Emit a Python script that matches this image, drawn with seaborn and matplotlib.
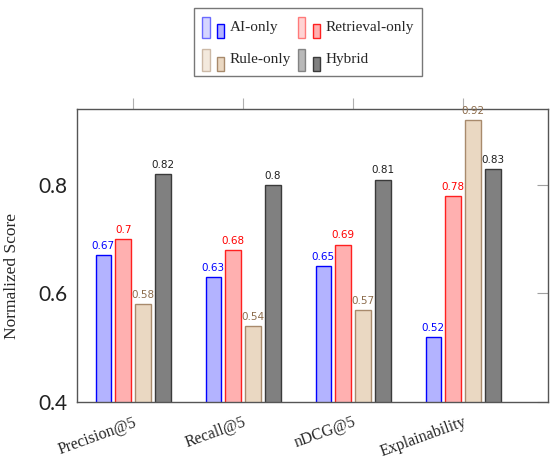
import numpy as np
import pandas as pd
import matplotlib
matplotlib.use("Agg")
import matplotlib.pyplot as plt
from matplotlib.patches import Patch, Rectangle
from matplotlib.legend_handler import HandlerBase
import seaborn as sns

metrics = ["Precision@5", "Recall@5", "nDCG@5", "Explainability"]
methods = ["AI-only", "Retrieval-only", "Rule-only", "Hybrid"]
ai_only = [0.67, 0.63, 0.65, 0.52]
retrieval_only = [0.70, 0.68, 0.69, 0.78]
rule_only = [0.58, 0.54, 0.57, 0.92]
hybrid = [0.82, 0.80, 0.81, 0.83]

face_colors = ["#b3b3ff", "#ffb0b0", "#ead8c2", "#808080"]
edge_colors = ["#0000ff", "#ff2020", "#a88a6c", "#3a3a3a"]
label_colors = ["#0000ff", "#ff0000", "#8c6c4c", "#202020"]

series = [ai_only, retrieval_only, rule_only, hybrid]
df = pd.DataFrame({
    "metric": metrics * len(methods),
    "method": [m for m in methods for _ in metrics],
    "score": [v for s in series for v in s],
})

sns.set_style("white")
plt.rcParams["font.family"] = ["Liberation Serif", "DejaVu Serif"]

fig = plt.figure(figsize=(5.5, 4.62), dpi=100)
ax = fig.add_axes([0.14, 0.13, 0.856, 0.634])

sns.barplot(data=df, x="metric", y="score", hue="method", hue_order=methods,
            palette=face_colors, saturation=1, width=0.72, gap=0.22,
            legend=False, ax=ax)

for cont, ec, lc, vals in zip(ax.containers, edge_colors, label_colors, series):
    for bar in cont:
        bar.set_edgecolor(ec)
        bar.set_linewidth(1.0)
    ax.bar_label(cont, labels=[f"{v:g}" for v in vals], color=lc, fontsize=7.5,
                 padding=3, family="DejaVu Sans")

ax.set_ylim(0.4, 0.94)
ax.set_xlim(-0.51, 3.77)
ax.set_yticks([0.4, 0.6, 0.8])
ax.set_yticklabels(["0.4", "0.6", "0.8"], family="Lato", fontsize=15)
ax.set_xlabel("")
ax.set_ylabel("Normalized Score", fontsize=12.5)
ax.yaxis.set_label_coords(-0.122, 0.43)

ax.tick_params(axis="y", direction="in", right=True, length=8, color="#a0a0a0",
               pad=7, labelcolor="#222222")
ax.tick_params(axis="x", direction="out", top=True, length=8, color="#b0b0b0",
               pad=1)
plt.setp(ax.get_xticklabels(), rotation=20, ha="right", rotation_mode="anchor",
         fontsize=11.5)

for sp in ax.spines.values():
    sp.set_color("#555555")
    sp.set_linewidth(1.0)


class TwoBarHandler(HandlerBase):
    def create_artists(self, legend, orig_handle, xdescent, ydescent, width,
                       height, fontsize, trans):
        fc = orig_handle.get_facecolor()
        ec = orig_handle.get_edgecolor()
        w = width * 0.33
        r1 = Rectangle((-xdescent, -ydescent - 2), w, height + 2, facecolor=fc,
                       edgecolor=ec, alpha=0.55, lw=1, transform=trans)
        r2 = Rectangle((-xdescent + width - w, -ydescent - 2), w, height * 0.6 + 2,
                       facecolor=fc, edgecolor=ec, lw=1, transform=trans)
        return [r1, r2]


# legend fills column by column, so reorder to get rows: AI/Retrieval, Rule/Hybrid
order = [0, 2, 1, 3]
handles = [Patch(facecolor=face_colors[i], edgecolor=edge_colors[i]) for i in order]
labels = [methods[i] for i in order]
leg = fig.legend(handles, labels, handler_map={Patch: TwoBarHandler()},
                 ncol=2, loc="upper center", bbox_to_anchor=(0.56, 0.982),
                 fontsize=11, frameon=True, fancybox=False, edgecolor="#555555",
                 handlelength=1.45, handleheight=1.5, handletextpad=0.35,
                 columnspacing=0.45, borderpad=0.55, labelspacing=0.9,
                 borderaxespad=0)
leg.get_frame().set_linewidth(1.0)

fig.savefig("out.png", dpi=100)
